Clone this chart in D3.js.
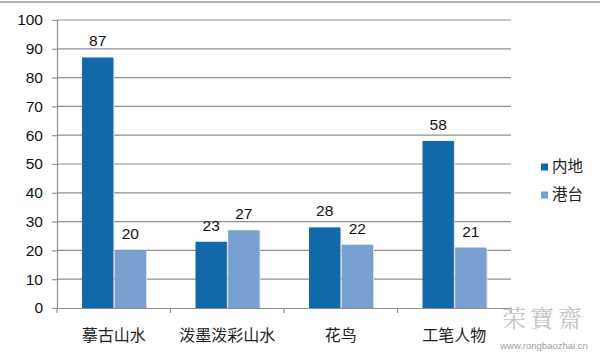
<!DOCTYPE html>
<html><head><meta charset="utf-8">
<script src="https://cdn.jsdelivr.net/npm/d3@7"></script>
<style>body{margin:0;background:#fff}svg{display:block}</style>
</head><body>
<svg id="c" width="600" height="360"></svg>
<script>
const categories = ["摹古山水", "泼墨泼彩山水", "花鸟", "工笔人物"];
const seriesNames = ["内地", "港台"];
const mainland = [87, 23, 28, 58];
const hkTw = [20, 27, 22, 21];
const yTicks = [0, 10, 20, 30, 40, 50, 60, 70, 80, 90, 100];
const colors = ["#1169a9", "#7aa0d1"];

(function(){
const svg = d3.select("#c");
const font = "'Liberation Sans', Arial, sans-serif";
const cjk = "'Noto Sans CJK SC', sans-serif";
const pLeft = 57, pRight = 511, pTop = 20, pBottom = 308;

svg.append("line").attr("x1",0).attr("x2",600).attr("y1",2).attr("y2",2)
  .attr("stroke","#9a9a9a").attr("stroke-width",1.5);

const y = d3.scaleLinear().domain([0,100]).range([pBottom, pTop]);
const x = d3.scaleBand().domain(categories).range([pLeft, pRight]).padding(0);
const xs = d3.scaleBand().domain(seriesNames).range([25, x.bandwidth()-24.5]).paddingInner(0.04);

// gridlines
svg.append("g").selectAll("line").data(yTicks.filter(d=>d>0)).join("line")
  .attr("x1", pLeft).attr("x2", pRight).attr("y1", d=>y(d)).attr("y2", d=>y(d))
  .attr("stroke","#8f8f8f").attr("stroke-width",1.2);

// y axis
const ya = svg.append("g").attr("transform",`translate(${pLeft},0)`)
  .call(d3.axisLeft(y).tickValues(yTicks).tickSize(5).tickPadding(9));
ya.select(".domain").attr("stroke","#8f8f8f").attr("stroke-width",1.2);
ya.selectAll(".tick line").attr("stroke","#8f8f8f").attr("stroke-width",1.2);
ya.selectAll("text").attr("font-family",font).attr("font-size",15.5).attr("fill","#111");

// bars
const data = categories.map((c,i)=>({c, vals:[mainland[i], hkTw[i]]}));
const groups = svg.append("g").selectAll("g").data(data).join("g")
  .attr("transform", d=>`translate(${x(d.c)},0)`);
const items = d=>d.vals.map((v,j)=>({v,s:seriesNames[j],j}));
groups.selectAll("rect.sh").data(items).join("rect")
  .attr("class","sh")
  .attr("x", d=>xs(d.s)+1).attr("y", d=>y(d.v)+1).attr("width", xs.bandwidth()).attr("height", d=>pBottom-y(d.v))
  .attr("fill","#d6dbe2");
groups.selectAll("rect.b").data(items).join("rect")
  .attr("class","b")
  .attr("x", d=>xs(d.s)).attr("y", d=>y(d.v)).attr("width", xs.bandwidth()).attr("height", d=>pBottom-y(d.v))
  .attr("fill", d=>colors[d.j]);
groups.selectAll("text").data(items).join("text")
  .attr("x", d=>xs(d.s)+xs.bandwidth()/2).attr("y", d=>y(d.v)-11)
  .attr("text-anchor","middle").attr("font-family",font).attr("font-size",15.5).attr("fill","#111")
  .text(d=>d.v);

// x axis
const xa = svg.append("g").attr("transform",`translate(0,${pBottom})`)
  .call(d3.axisBottom(x).tickSize(0).tickPadding(22));
xa.select(".domain").attr("stroke","#8f8f8f").attr("stroke-width",1.2);
xa.selectAll("text").attr("font-family",cjk).attr("font-size",16).attr("fill","#222");
svg.append("g").selectAll("line").data(d3.range(categories.length+1)).join("line")
  .attr("x1", i=>pLeft + i*x.step()).attr("x2", i=>pLeft + i*x.step())
  .attr("y1", pBottom).attr("y2", pBottom+5).attr("stroke","#8f8f8f").attr("stroke-width",1.2);

// legend
const lg = svg.append("g").selectAll("g").data(seriesNames).join("g")
  .attr("transform",(d,i)=>`translate(541,${167 + i*28})`);
lg.append("rect").attr("x",0).attr("y",-3.5).attr("width",7).attr("height",7).attr("fill",(d,i)=>colors[i]);
lg.append("text").attr("x",11).attr("y",0).attr("dy","0.35em")
  .attr("font-family",cjk).attr("font-size",15.5).attr("fill","#222").text(d=>d);

// watermark
svg.append("text").attr("x",544).attr("y",327).attr("text-anchor","middle")
  .attr("font-family","'Noto Serif CJK SC','Noto Sans CJK TC',serif").attr("font-size",24)
  .attr("fill","#c4c4c4").attr("letter-spacing",4).text("荣寶齋");
svg.append("text").attr("x",544).attr("y",349).attr("text-anchor","middle")
  .attr("font-family",font).attr("font-size",9.5).attr("fill","#a0a0a0").text("www.rongbaozhai.cn");
})();
</script>
</body></html>
